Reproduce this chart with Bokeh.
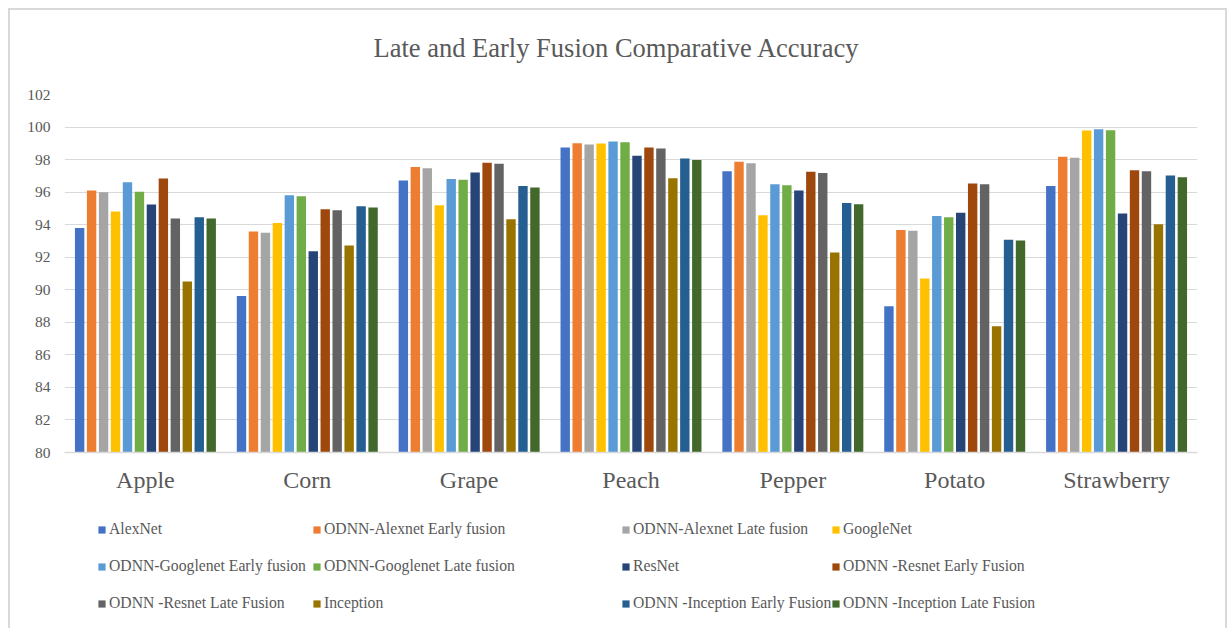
from bokeh.plotting import figure
from bokeh.layouts import column
from bokeh.models import (ColumnDataSource, FactorRange, Range1d, Legend, LegendItem,
                          SingleIntervalTicker, Title)
from bokeh.transform import dodge
from bokeh.embed import file_html
from bokeh.resources import INLINE

crops = ["Apple", "Corn", "Grape", "Peach", "Pepper", "Potato", "Strawberry"]

series_names = [
    "AlexNet",
    "ODNN-Alexnet Early fusion",
    "ODNN-Alexnet Late fusion",
    "GoogleNet",
    "ODNN-Googlenet Early fusion",
    "ODNN-Googlenet Late fusion",
    "ResNet",
    "ODNN -Resnet Early Fusion",
    "ODNN -Resnet Late Fusion",
    "Inception",
    "ODNN -Inception Early Fusion",
    "ODNN -Inception Late Fusion",
]

alexnet          = [93.79, 89.61, 96.72, 98.75, 97.29, 88.99, 96.37]
alexnet_early    = [96.10, 93.58, 97.55, 99.01, 97.86, 93.68, 98.17]
alexnet_late     = [96.00, 93.50, 97.47, 98.93, 97.78, 93.62, 98.11]
googlenet        = [94.81, 94.11, 95.20, 98.99, 94.58, 90.69, 99.79]
googlenet_early  = [96.61, 95.81, 96.80, 99.11, 96.49, 94.54, 99.87]
googlenet_late   = [96.02, 95.75, 96.76, 99.07, 96.43, 94.46, 99.81]
resnet           = [95.24, 92.37, 97.21, 98.23, 96.10, 94.73, 94.69]
resnet_early     = [96.84, 94.95, 97.80, 98.75, 97.25, 96.53, 97.35]
resnet_late      = [94.38, 94.89, 97.74, 98.68, 97.17, 96.49, 97.29]
inception        = [90.51, 92.72, 94.34, 96.86, 92.29, 87.76, 94.03]
inception_early  = [94.46, 95.14, 96.37, 98.07, 95.34, 93.07, 97.02]
inception_late   = [94.38, 95.06, 96.29, 97.98, 95.26, 93.03, 96.92]

series_values = [alexnet, alexnet_early, alexnet_late, googlenet, googlenet_early,
                 googlenet_late, resnet, resnet_early, resnet_late, inception,
                 inception_early, inception_late]

colors = ["#4472C4", "#ED7D31", "#A5A5A5", "#FFC000", "#5B9BD5", "#70AD47",
          "#264478", "#9E480E", "#636363", "#997300", "#255E91", "#43682B"]

TEXT = "#595959"
FONT = "Liberation Serif"
W = 1215

data = {"cat": crops}
for i, vals in enumerate(series_values):
    data[f"s{i}"] = vals
src = ColumnDataSource(data)

p = figure(x_range=FactorRange(*crops, range_padding=0), y_range=Range1d(80, 102),
           width=W, height=490, output_backend="svg", toolbar_location=None,
           min_border_left=54, min_border_right=28, min_border_top=84, min_border_bottom=48)
p.outline_line_color = None
p.background_fill_color = "white"
p.border_fill_color = "white"

p.title = Title(text="Late and Early Fusion Comparative Accuracy", align="left",
                text_font=FONT, text_font_size="26.5px", text_font_style="normal",
                text_color=TEXT, standoff=10, offset=309)
# spacer between title and plot area
p.add_layout(Title(text=" ", text_font_size="1px", standoff=24), "above")

step = 0.0739
renderers = []
for i, name in enumerate(series_names):
    off = (i - 5.5) * step
    r = p.vbar(x=dodge("cat", off, range=p.x_range), top=f"s{i}", bottom=80,
               width=0.058, source=src, fill_color=colors[i], line_color=None)
    renderers.append(r)

# axes
p.yaxis.ticker = SingleIntervalTicker(interval=2)
p.yaxis.axis_line_color = None
p.yaxis.major_tick_line_color = None
p.yaxis.major_tick_out = 0
p.yaxis.minor_tick_line_color = None
p.yaxis.minor_tick_out = 0
p.yaxis.major_label_text_font = FONT
p.yaxis.major_label_text_font_size = "15.5px"
p.yaxis.major_label_text_color = TEXT
p.yaxis.major_label_standoff = 14

p.xaxis.axis_line_color = "#d9d9d9"
p.xaxis.axis_line_width = 1.5
p.xaxis.major_tick_line_color = None
p.xaxis.major_tick_out = 0
p.xaxis.minor_tick_line_color = None
p.xaxis.minor_tick_out = 0
p.xaxis.major_label_text_font = FONT
p.xaxis.major_label_text_font_size = "24px"
p.xaxis.major_label_text_color = TEXT
p.xaxis.major_label_standoff = 14

p.xgrid.grid_line_color = None
p.ygrid.grid_line_color = "#d9d9d9"
p.ygrid.grid_line_width = 1.2

# legend panel (separate canvas below the chart)
LH = 128
q = figure(width=W, height=LH, x_range=Range1d(0, W), y_range=Range1d(0, LH),
           output_backend="svg", toolbar_location=None,
           x_axis_location=None, y_axis_location=None,
           min_border_left=0, min_border_right=0, min_border_top=0, min_border_bottom=0)
q.grid.grid_line_color = None
q.outline_line_color = None
q.background_fill_color = "white"
q.border_fill_color = "white"

# off-screen swatches used only for the legend markers
legend_glyphs = [q.vbar(x=[-1000], top=[-1000], bottom=[-1001], width=1,
                        fill_color=colors[i], line_color=None)
                 for i in range(len(series_names))]

col_x = [33, 248, 557, 767]
for c in range(4):
    items = [LegendItem(label=series_names[r * 4 + c], renderers=[legend_glyphs[r * 4 + c]])
             for r in range(3)]
    lg = Legend(items=items, location=(col_x[c], 15), orientation="vertical",
                padding=0, margin=0, spacing=17, label_height=20, glyph_height=9,
                glyph_width=9, label_standoff=3, border_line_color=None,
                background_fill_alpha=0, label_text_font=FONT,
                label_text_font_size="15.7px", label_text_color=TEXT)
    q.add_layout(lg, "center")

layout = column(p, q, spacing=0)
layout.styles = {"margin-left": "8px", "margin-top": "8px",
                 "border-top": "2px solid #d9d9d9", "border-left": "2px solid #d9d9d9",
                 "border-right": "2px solid #d9d9d9"}

open("out.html", "w").write(file_html(layout, INLINE))
